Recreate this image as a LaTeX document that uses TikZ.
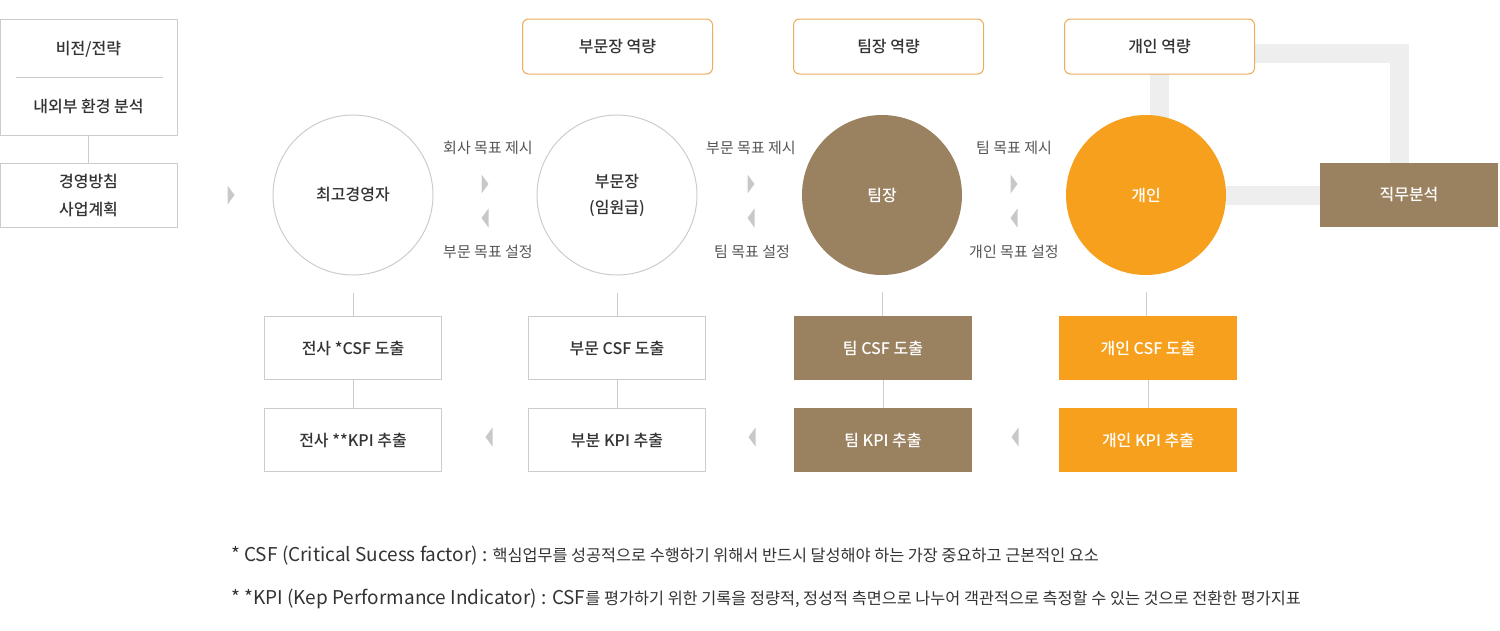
\documentclass[tikz,border=0pt]{standalone}
\usepackage{fontspec}
\setmainfont{Noto Sans CJK KR}
\newfontfamily\medfont{Noto Sans CJK KR Medium}
\usepackage{tikz}
\usetikzlibrary{backgrounds,calc}

\definecolor{brownfill}{RGB}{154,129,96}
\definecolor{orangefill}{RGB}{247,160,30}
\definecolor{compline}{RGB}{236,172,88}
\definecolor{boxline}{RGB}{204,204,204}
\definecolor{tipgrey}{RGB}{200,200,200}
\definecolor{bargrey}{RGB}{238,238,238}
\definecolor{textdark}{RGB}{51,51,51}
\definecolor{textgrey}{RGB}{85,85,85}

\newcommand{\latn}[1]{{\fontsize{19}{16}\selectfont #1}}

\begin{document}
\begin{tikzpicture}[x=1pt,y=-1pt,
	every node/.style={inner sep=0pt,text=textdark,align=center,font=\medfont\fontsize{16}{26}\selectfont},
	whitebox/.style={draw=boxline,line width=1pt,fill=white,minimum width=177pt,minimum height=63pt},
	brownbox/.style={fill=brownfill,text=white,minimum width=178pt,minimum height=64pt},
	orangebox/.style={fill=orangefill,text=white,minimum width=178pt,minimum height=64pt},
	compbox/.style={draw=compline,line width=1pt,rounded corners=6pt,fill=white,minimum width=190pt,minimum height=55pt},
	person/.style={circle,minimum size=160pt},
	goal/.style={text=textgrey,font=\fontsize{15}{16}\selectfont},
	link/.style={draw=boxline,line width=1pt},
	bar/.style={draw=bargrey,line width=19pt},
	note/.style={anchor=west,align=left,text=textdark,font=\fontsize{16.3}{16}\selectfont}]
	\useasboundingbox (0,0) rectangle (1500,630);
	% left column
	\node[whitebox,minimum height=116pt] (vision) at (88.5,77) {};
	\node (visiontop) at (88.5,49) {비전/전략};
	\node (visionbot) at (88.5,106) {내외부 환경 분석};
	\draw[link] ([xshift=16pt]vision.west) -- ([xshift=-15pt]vision.east);
	\node[whitebox,minimum height=64pt,font=\medfont\fontsize{16}{28}\selectfont] (plan) at (88.5,195) {경영방침\\사업계획};
	\draw[link] (vision) -- (plan);
	% circles
	\node[person,draw=boxline,line width=1pt] (ceo) at (353,195) {최고경영자};
	\node[person,draw=boxline,line width=1pt] (head) at (617,195) {부문장\\(임원급)};
	\node[person,fill=brownfill,text=white] (leader) at (882,195) {팀장};
	\node[person,fill=orangefill,text=white] (indiv) at (1146,195) {개인};
	\node[brownbox] (job) at (1409,195) {직무분석};
	% competency boxes
	\node[compbox] (headcomp) at (617.5,46.5) {부문장 역량};
	\node[compbox] (leadcomp) at (888.5,46.5) {팀장 역량};
	\node[compbox] (indcomp) at (1159.5,46.5) {개인 역량};
	\begin{scope}[on background layer]
	\draw[bar] (indcomp.center) -- (indcomp.center |- indiv.center);
	\draw[bar] (indiv) -- (job);
	\draw[bar] ([yshift=-6.5pt]indcomp.center) -| ([xshift=-10pt]job.center);
	\end{scope}
	% goal labels
	\node[goal] (g1a) at (488,148) {회사 목표 제시};
	\node[goal] (g1b) at (488,252) {부문 목표 설정};
	\node[goal] (g2a) at (751,148) {부문 목표 제시};
	\node[goal] (g2b) at (752,252) {팀 목표 설정};
	\node[goal] (g3a) at (1014,148) {팀 목표 제시};
	\node[goal] (g3b) at (1014,252) {개인 목표 설정};
	% arrow tips
	\foreach \x/\y in {231/195,485/184,751/184,1014/184}
	\fill[tipgrey] (\x-3.5,\y-9.5) -- (\x+3.5,\y) -- (\x-3.5,\y+9.5) -- cycle;
	\foreach \x/\y in {485/218,751/218,1014/218,489/437,752/437,1015/437}
	\fill[tipgrey] (\x+3.5,\y-9.5) -- (\x-3.5,\y) -- (\x+3.5,\y+9.5) -- cycle;
	% csf and kpi boxes
	\node[whitebox] (csf1) at (353,348) {전사 *CSF 도출};
	\node[whitebox] (kpi1) at (353,440) {전사 **KPI 추출};
	\node[whitebox] (csf2) at (617,348) {부문 CSF 도출};
	\node[whitebox] (kpi2) at (617,440) {부분 KPI 추출};
	\node[brownbox] (csf3) at (883,348) {팀 CSF 도출};
	\node[brownbox] (kpi3) at (883,440) {팀 KPI 추출};
	\node[orangebox] (csf4) at (1148,348) {개인 CSF 도출};
	\node[orangebox] (kpi4) at (1148,440) {개인 KPI 추출};
	\foreach \c/\s/\k in {ceo/csf1/kpi1,head/csf2/kpi2,leader/csf3/kpi3,indiv/csf4/kpi4}
	{
	\draw[link,shorten <=17pt] (\c.south) -- (\c.south |- \s.north);
	\draw[link] (\s) -- (\k);
	}
	% notes
	\node[note] (csfnote) at (231,556) {\latn{* CSF (Critical Sucess factor) :} 핵심업무를 성공적으로 수행하기 위해서 반드시 달성해야 하는 가장 중요하고 근본적인 요소};
	\node[note] (kpinote) at (231,599) {\latn{* *KPI (Kep Performance Indicator) : CSF}를 평가하기 위한 기록을 정량적, 정성적 측면으로 나누어 객관적으로 측정할 수 있는 것으로 전환한 평가지표};
\end{tikzpicture}
\end{document}
